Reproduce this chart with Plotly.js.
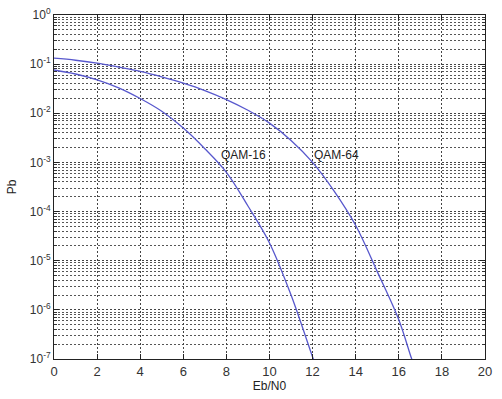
<!DOCTYPE html>
<html>
<head>
<meta charset="utf-8">
<script src="https://cdn.plot.ly/plotly-3.0.1.min.js"></script>
<style>html,body{margin:0;padding:0;background:#fff;}#chart{width:502px;height:399px;}</style>
</head>
<body>
<div id="chart"></div>
<script>
// Eb/N0 (dB) sample points
const ebn0_16 = [0, 1, 2, 3, 4, 5, 6, 7, 8, 9, 10, 11, 12, 12.1];
const pb_16   = [7.6e-2, 6.3e-2, 4.8e-2, 3.3e-2, 2.0e-2, 1.1e-2, 5.0e-3, 1.9e-3, 6.3e-4, 1.3e-4, 2.3e-5, 2.0e-6, 1.1e-7, 8.5e-8];
const ebn0_64 = [0, 1, 2, 3, 4, 5, 6, 7, 8, 9, 10, 11, 12, 13, 14, 15, 16, 16.6, 16.7];
const pb_64   = [1.32e-1, 1.2e-1, 1.05e-1, 8.7e-2, 7.1e-2, 5.5e-2, 4.1e-2, 2.9e-2, 1.9e-2, 1.15e-2, 6.3e-3, 2.8e-3, 1.0e-3, 2.6e-4, 5.2e-5, 6.0e-6, 6.3e-7, 1.0e-7, 7.8e-8];
const seriesNames = ['QAM-16', 'QAM-64'];
const labelX = [8.8, 13.1];
const labelY = [1.4e-3, 1.4e-3];
const yExponents = [0, -1, -2, -3, -4, -5, -6, -7];
const xTicks = [0, 2, 4, 6, 8, 10, 12, 14, 16, 18, 20];

const lineColor = 'rgb(88,88,205)';
const yTickVals = yExponents.map(e => Math.pow(10, e));
const yTickText = yExponents.map(e => '10<sup>' + (e < 0 ? '-' : '') + Math.abs(e) + '</sup>');
const minorVals = [];
for (let e = -7; e < 0; e++) for (let d = 2; d <= 9; d++) minorVals.push(d * Math.pow(10, e));

const traces = [
  {x: ebn0_16, y: pb_16, mode: 'lines', line: {color: lineColor, width: 1.3, shape: 'spline'}, name: seriesNames[0]},
  {x: ebn0_64, y: pb_64, mode: 'lines', line: {color: lineColor, width: 1.3, shape: 'spline'}, name: seriesNames[1]}
];

const gridDash = '2px,2px';
const font = {family: 'Liberation Sans, Arial, sans-serif', size: 12, color: '#222'};
const layout = {
  width: 502, height: 399,
  margin: {l: 54, r: 17, t: 15, b: 40},
  paper_bgcolor: '#fff', plot_bgcolor: '#fff',
  showlegend: false,
  font: font,
  xaxis: {
    range: [0, 20], tickvals: xTicks, ticktext: xTicks.map(String),
    showgrid: true, gridcolor: '#444', griddash: gridDash, gridwidth: 1,
    showline: true, linecolor: '#222', linewidth: 1, mirror: 'ticks',
    ticks: 'inside', ticklen: 5, tickcolor: '#222', zeroline: false,
    tickfont: {family: font.family, size: 13, color: '#333'},
    title: {text: 'Eb/N0', font: {family: font.family, size: 12, color: '#222'}, standoff: 4}
  },
  yaxis: {
    type: 'log', range: [-7, 0],
    tickmode: 'array', tickvals: yTickVals, ticktext: yTickText,
    showgrid: true, gridcolor: '#444', griddash: gridDash, gridwidth: 1,
    showline: true, linecolor: '#222', linewidth: 1, mirror: 'ticks',
    ticks: 'inside', ticklen: 5, tickcolor: '#222', zeroline: false,
    tickfont: {family: font.family, size: 12, color: '#333'},
    minor: {tickmode: 'array', tickvals: minorVals, showgrid: true, gridcolor: '#555', griddash: gridDash, gridwidth: 1, ticks: 'inside', ticklen: 3, tickcolor: '#333'},
    title: {text: 'Pb', font: {family: font.family, size: 12, color: '#222'}, standoff: 10}
  },
  annotations: seriesNames.map((n, i) => ({
    x: labelX[i], y: Math.log10(labelY[i]), xref: 'x', yref: 'y', text: n, showarrow: false,
    font: {family: font.family, size: 12, color: '#222'}
  }))
};
Plotly.newPlot('chart', traces, layout, {displayModeBar: false, staticPlot: true});
</script>
</body>
</html>
